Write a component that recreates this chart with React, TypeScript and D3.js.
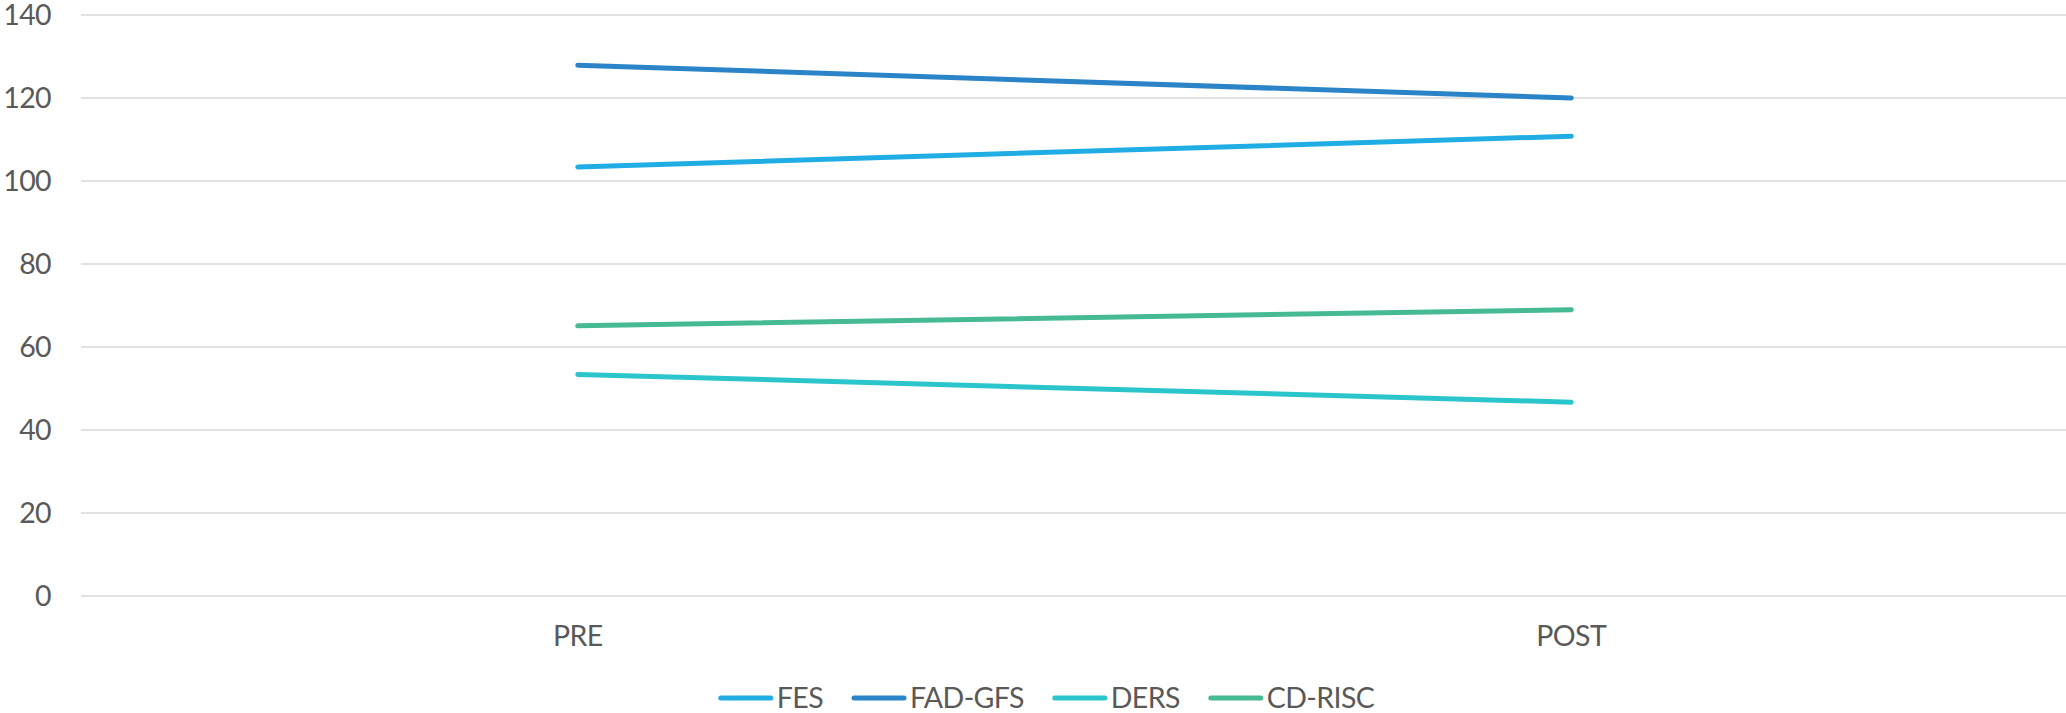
import React, { useEffect, useRef } from "react";
import * as d3 from "d3";

const categories = ["PRE", "POST"];
const seriesNames = ["FES", "FAD-GFS", "DERS", "CD-RISC"];
const fesValues = [103.4, 110.8];
const fadGfsValues = [127.9, 120.0];
const dersValues = [53.4, 46.7];
const cdRiscValues = [65.1, 69.0];
const seriesColors = ["#1FADE4", "#2A84C7", "#2BC5CC", "#45BA94"];
const yTicks = [0, 20, 40, 60, 80, 100, 120, 140];

const W = 2066;
const H = 713;
const FONT = "Lato, 'Open Sans', sans-serif";
const TEXT = "#595959";
const LS = "-0.6px";

export default function App() {
  const ref = useRef<SVGSVGElement | null>(null);

  useEffect(() => {
    const svg = d3.select(ref.current);
    svg.selectAll("*").remove();

    const x = d3.scaleBand<string>().domain(categories).range([81, 2068]).padding(0);
    const y = d3.scaleLinear().domain([0, 140]).range([596, 15]);

    const values = [fesValues, fadGfsValues, dersValues, cdRiscValues];

    svg
      .append("g")
      .selectAll("line")
      .data(yTicks)
      .join("line")
      .attr("x1", 81)
      .attr("x2", W)
      .attr("y1", (d) => y(d))
      .attr("y2", (d) => y(d))
      .attr("stroke", "#D9D9D9")
      .attr("stroke-width", 1.6);

    svg
      .append("g")
      .selectAll("text")
      .data(yTicks)
      .join("text")
      .attr("x", 51)
      .attr("y", (d) => y(d))
      .attr("dy", "0.36em")
      .attr("text-anchor", "end")
      .attr("font-family", FONT)
      .attr("font-size", 28.5)
      .attr("letter-spacing", LS)
      .attr("fill", TEXT)
      .text((d) => String(d));

    svg
      .append("g")
      .selectAll("text")
      .data(categories)
      .join("text")
      .attr("x", (d) => (x(d) as number) + x.bandwidth() / 2)
      .attr("y", 645.5)
      .attr("text-anchor", "middle")
      .attr("font-family", FONT)
      .attr("font-size", 28.5)
      .attr("letter-spacing", LS)
      .attr("fill", TEXT)
      .text((d) => d);

    const line = d3
      .line<number>()
      .x((_, i) => (x(categories[i]) as number) + x.bandwidth() / 2)
      .y((d) => y(d));

    svg
      .append("g")
      .selectAll("path")
      .data(values)
      .join("path")
      .attr("d", (d) => line(d))
      .attr("fill", "none")
      .attr("stroke", (_, i) => seriesColors[i])
      .attr("stroke-width", 5)
      .attr("stroke-linecap", "round")
      .attr("stroke-linejoin", "round");

    const lg = svg.append("g");
    const lineLen = 56;
    const gapLT = 3;
    const gapItem = 28;
    let cx = 0;
    seriesNames.forEach((name, i) => {
      const g = lg.append("g");
      g.append("line")
        .attr("x1", 3)
        .attr("x2", lineLen - 3)
        .attr("y1", 0)
        .attr("y2", 0)
        .attr("stroke", seriesColors[i])
        .attr("stroke-width", 5)
        .attr("stroke-linecap", "round");
      const t = g
        .append("text")
        .attr("x", lineLen + gapLT)
        .attr("y", 0)
        .attr("dy", "0.36em")
        .attr("font-family", FONT)
        .attr("font-size", 28.5)
        .attr("letter-spacing", LS)
        .attr("fill", TEXT)
        .text(name);
      const tw = (t.node() as SVGTextElement).getComputedTextLength();
      g.attr("transform", `translate(${cx},0)`);
      cx += lineLen + gapLT + tw + gapItem;
    });
    const total = cx - gapItem;
    const startX = 1046 - total / 2;
    lg.attr("transform", `translate(${startX},698)`);
  }, []);

  return (
    <svg
      ref={ref}
      width={W}
      height={H}
      style={{ position: "absolute", left: 0, top: 0, background: "#fff" }}
    />
  );
}
